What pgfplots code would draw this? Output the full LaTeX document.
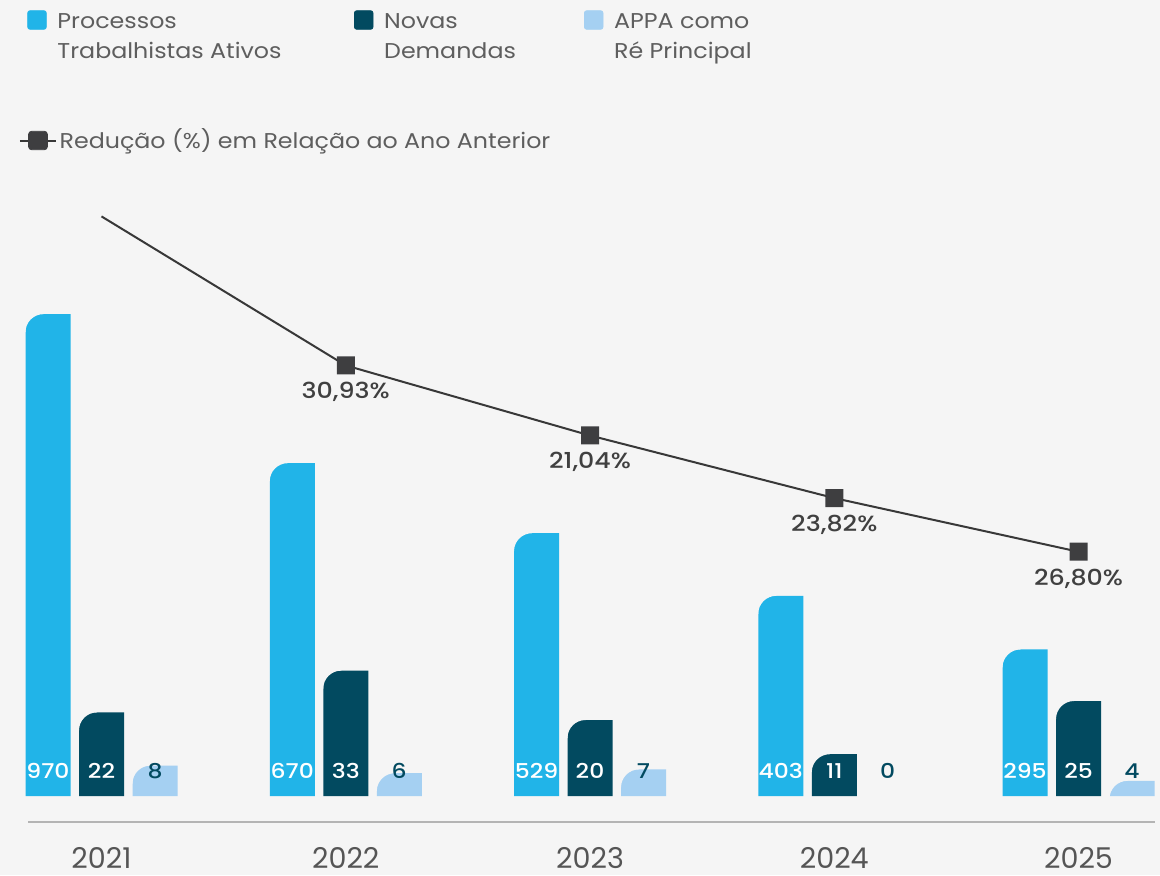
\documentclass[border=0pt]{standalone}
\usepackage{fontspec}
\setmainfont{Poppins}[FakeStretch=1.11]
\newfontfamily\pmed{Poppins Medium}[FakeStretch=1.15]
\newfontfamily\yearfont{Poppins}
\usepackage{pgfplots}
\pgfplotsset{compat=1.18}
\usepackage{pgfplotstable}

\definecolor{bgc}{HTML}{F5F5F5}
\definecolor{cyanc}{HTML}{21B4E8}
\definecolor{darkc}{HTML}{024A60}
\definecolor{lightc}{HTML}{A5D0F2}
\definecolor{txt}{HTML}{5E5E5E}
\definecolor{linec}{HTML}{383838}
\definecolor{markc}{HTML}{3E3E40}
\definecolor{pctc}{HTML}{404040}
\definecolor{axisc}{HTML}{B4B4B4}
\definecolor{yearc}{HTML}{555555}

\pgfplotstableread{
x proc novas appa zero
0 970 22 8 0
1 670 33 6 0
2 529 20 7 0
3 403 11 0 0
4 295 25 4 0
}\bars

\pgfplotstableread{
x v lab
1 670 30,93
2 529 21,04
3 403 23,82
4 295 26,80
}\pcts

% corner cut marks (top-left rounded corner of each bar)
\pgfdeclareplotmark{cutP}{%
  \pgfsetfillcolor{bgc}%
  \pgfpathmoveto{\pgfqpoint{-38.7pt}{0.7pt}}%
  \pgfpathlineto{\pgfqpoint{-29pt}{0.7pt}}%
  \pgfpathlineto{\pgfqpoint{-29pt}{0pt}}%
  \pgfpatharc{90}{180}{9pt}%
  \pgfpathlineto{\pgfqpoint{-38.7pt}{-9pt}}%
  \pgfpathclose\pgfusepathqfill}
\pgfdeclareplotmark{cutN}{%
  \pgfsetfillcolor{bgc}%
  \pgfpathmoveto{\pgfqpoint{-11.95pt}{0.7pt}}%
  \pgfpathlineto{\pgfqpoint{-2.25pt}{0.7pt}}%
  \pgfpathlineto{\pgfqpoint{-2.25pt}{0pt}}%
  \pgfpatharc{90}{180}{9pt}%
  \pgfpathlineto{\pgfqpoint{-11.95pt}{-9pt}}%
  \pgfpathclose\pgfusepathqfill}
\pgfdeclareplotmark{cutA}{%
  \pgfsetfillcolor{bgc}%
  \pgfpathmoveto{\pgfqpoint{14.8pt}{0.7pt}}%
  \pgfpathlineto{\pgfqpoint{24.5pt}{0.7pt}}%
  \pgfpathlineto{\pgfqpoint{24.5pt}{0pt}}%
  \pgfpatharc{90}{180}{9pt}%
  \pgfpathlineto{\pgfqpoint{14.8pt}{-9pt}}%
  \pgfpathclose\pgfusepathqfill}
\pgfdeclareplotmark{rsq}{%
  \pgfsetfillcolor{markc}%
  \pgfsetcornersarced{\pgfqpoint{1.6pt}{1.6pt}}%
  \pgfpathmoveto{\pgfqpoint{0pt}{-4.5pt}}%
  \pgfpathlineto{\pgfqpoint{4.5pt}{-4.5pt}}%
  \pgfpathlineto{\pgfqpoint{4.5pt}{4.5pt}}%
  \pgfpathlineto{\pgfqpoint{-4.5pt}{4.5pt}}%
  \pgfpathlineto{\pgfqpoint{-4.5pt}{-4.5pt}}%
  \pgfpathclose\pgfusepathqfill}

\pgfplotsset{
  layer/.style={width=580pt, height=437.5pt, scale only axis,
    at={(0pt,0pt)}, anchor=south west,
    xmin=-0.415558, xmax=4.333675,
    axis line style={draw=none}, ticks=none, clip=false,
    legend style={draw=none, fill=none, inner sep=0pt, outer sep=0pt,
      row sep=0pt, column sep=5.4pt, font=\fontsize{10.7}{15}\selectfont,
      text=txt, cells={anchor=base west}, nodes={inner sep=0pt}}},
  barlab/.style={draw=none, mark=none, forget plot,
    nodes near coords={\pgfplotspointmeta}, point meta=explicit symbolic,
    every node near coord/.style={anchor=base, yshift=9pt, inner sep=0pt,
      font=\pmed\fontsize{10.2}{12}\selectfont}},
  barsty/.style={ybar, bar width=22.5pt, draw=none, forget plot},
}

\begin{document}
\begin{tikzpicture}
% ---- Processos Trabalhistas Ativos ----
\begin{axis}[layer, ymin=-159, ymax=1602.3,
  axis background/.style={fill=bgc},
  legend style={at={(0.023534,0.991657)}, anchor=north west}]
\addplot[barsty, bar shift=-26.75pt, fill=cyanc] table[x=x,y=proc]{\bars};
\addplot[only marks, mark=cutP, forget plot] table[x=x,y=proc]{\bars};
\addplot[barlab, every node near coord/.append style={text=white, xshift=-26.75pt}]
  table[x=x,y=zero,meta=proc]{\bars};
\addlegendimage{legend image code/.code={\fill[cyanc,rounded corners=1.2pt] (0pt,-0.5pt) rectangle (9.3pt,8.8pt);}}
\addlegendentry{\begin{tabular}[t]{@{}l@{}}Processos\\Trabalhistas Ativos\end{tabular}}
\end{axis}
% ---- Novas Demandas & APPA ----
\begin{axis}[layer, ymin=-20.79, ymax=209.47,
  legend style={at={(0.305172,0.991657)}, anchor=north west}]
\addplot[barsty, bar shift=0pt, fill=darkc] table[x=x,y=novas]{\bars};
\addplot[barsty, bar shift=26.75pt, fill=lightc, restrict y to domain=0.01:1000] table[x=x,y=appa]{\bars};
\addplot[only marks, mark=cutN, forget plot] table[x=x,y=novas]{\bars};
\addplot[only marks, mark=cutA, forget plot, restrict y to domain=0.01:1000] table[x=x,y=appa]{\bars};
\addplot[barlab, every node near coord/.append style={text=white}]
  table[x=x,y=zero,meta=novas]{\bars};
\addplot[barlab, every node near coord/.append style={text=darkc, xshift=26.75pt}]
  table[x=x,y=zero,meta=appa]{\bars};
\addlegendimage{legend image code/.code={\fill[darkc,rounded corners=1.2pt] (0pt,-0.5pt) rectangle (9.3pt,8.8pt);}}
\addlegendentry{\begin{tabular}[t]{@{}l@{}}Novas\\Demandas\end{tabular}}
\end{axis}
% ---- APPA legend ----
\begin{axis}[layer, ymin=0, ymax=1,
  legend style={at={(0.503448,0.991657)}, anchor=north west}]
\addlegendimage{legend image code/.code={\fill[lightc,rounded corners=1.2pt] (0pt,-0.5pt) rectangle (9.3pt,8.8pt);}}
\addlegendentry{\begin{tabular}[t]{@{}l@{}}APPA como\\R\'e Principal\end{tabular}}
\end{axis}
% ---- Reduction line ----
\begin{axis}[layer, ymin=-355.7, ymax=1405.6,
  legend style={at={(0.016379,0.854514)}, anchor=north west, column sep=1.3pt}]
\addplot[linec, line width=1pt, mark=none, forget plot] table[x=x,y=proc]{\bars};
\addplot[only marks, mark=rsq, forget plot,
  nodes near coords={\pgfplotspointmeta\%}, point meta=explicit symbolic,
  every node near coord/.style={anchor=base, yshift=-16.75pt, inner sep=0pt,
    text=pctc, font=\pmed\fontsize{11}{13}\selectfont}]
  table[x=x,y=v,meta=lab]{\pcts};
\addlegendimage{legend image code/.code={\draw[linec,line width=1pt] (0pt,3.9pt) -- (18pt,3.9pt); \fill[markc,rounded corners=1.5pt] (4.3pt,-0.7pt) rectangle (13.7pt,8.5pt);}}
\addlegendentry{\begin{tabular}[t]{@{}l@{}}Redu\c{c}\~ao (\%) em Rela\c{c}\~ao ao Ano Anterior\end{tabular}}
\end{axis}
% ---- Year axis ----
\begin{axis}[at={(14pt,26.5pt)}, anchor=south west, width=563.5pt, height=20pt,
  scale only axis, xmin=-0.300921, xmax=4.313204, ymin=0, ymax=1,
  axis x line*=bottom, axis y line=none,
  x axis line style={axisc, line width=1pt},
  xtick={0,1,2,3,4},
  xticklabels={\mbox{2021},\mbox{2022},\mbox{2023},\mbox{2024},\mbox{2025}},
  major tick length=0pt,
  xticklabel style={anchor=base, yshift=-23.3pt, inner sep=0pt,
    font=\yearfont\fontsize{14.3}{17}\selectfont, text=yearc}]
\end{axis}
\pgfresetboundingbox
\path[use as bounding box] (0pt,0pt) rectangle (580pt,437.5pt);
\end{tikzpicture}
\end{document}
